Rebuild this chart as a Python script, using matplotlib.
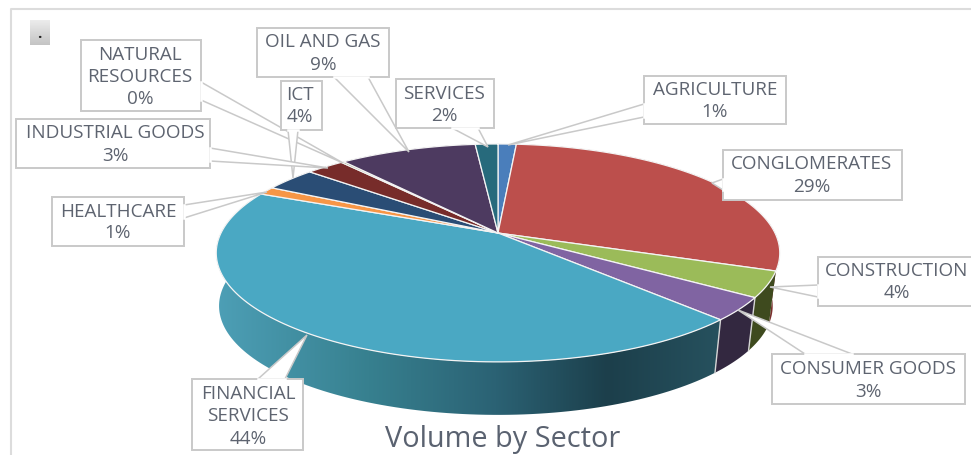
import numpy as np
import matplotlib
matplotlib.use("Agg")
import matplotlib.pyplot as plt
from matplotlib.colors import LinearSegmentedColormap
from matplotlib.patches import Polygon, Rectangle

plt.rcParams["font.family"] = ["Open Sans", "DejaVu Sans"]

SECTORS = ["AGRICULTURE", "CONGLOMERATES", "CONSTRUCTION", "CONSUMER GOODS",
           "FINANCIAL SERVICES", "HEALTHCARE", "ICT", "INDUSTRIAL GOODS",
           "NATURAL RESOURCES", "OIL AND GAS", "SERVICES"]
VALUES = [1.25, 29.25, 3.8, 3.4, 43.8, 1.2, 3.55, 2.6, 0.2, 9.4, 1.55]
PERCENT = ["1%", "29%", "4%", "3%", "44%", "1%", "4%", "3%", "0%", "9%", "2%"]

TOP_COLORS = ["#4a7ebb", "#bc4f4c", "#9bbb59", "#8064a2", "#4aa8c3", "#f79646",
              "#2a4d75", "#772c2a", "#5f7530", "#4d3a60", "#276a7c"]
SIDE_COLORS = ["#2c4b70", "#7a2f2d", "#3e4a1e", "#332840", "#2f6f85", "#a8641f",
               "#1c334e", "#4f1d1c", "#3f4e20", "#332740", "#1a4753"]

# pie geometry, in pixels
CX, CY = 498, 233
RX, RY, PERSP = 277, 105.3, 0.183
DEPTH = 53
BOTTOM_SCALE_L, BOTTOM_SCALE_R = 0.99, 0.975
BORDER = "#c9c9c9"

# box (x0, y0, x1, y1), pointer base 1, pointer base 2, tip, text centre x, text line ys
CALLOUTS = {
    "AGRICULTURE": ((644, 76, 786, 124), (644, 104), (644, 117), (508, 145), 715, [89, 111]),
    "CONGLOMERATES": ((723, 150, 902, 200), (723, 179), (723, 190), (712, 183), 812, [163, 186]),
    "CONSTRUCTION": ((818, 257, 985, 306), (818, 285), (818, 297), (770, 287), 897, [270, 292]),
    "CONSUMER GOODS": ((772, 354, 965, 404), (805, 354), (852, 354), (738, 310), 868, [368, 391]),
    "FINANCIAL SERVICES": ((192, 379, 303, 450), (258, 379), (285, 379), (307, 335), 248, [393, 415, 438]),
    "HEALTHCARE": ((52, 197, 184, 246), (184, 205), (184, 218), (267, 192), 118, [211, 232]),
    "NATURAL RESOURCES": ((81, 40, 201, 111), (201, 82), (201, 100), (343, 163), 140, [54, 76, 98]),
    "ICT": ((281, 81, 322, 130), (288, 130), (298, 130), (293, 178), 300, [94, 116]),
    "INDUSTRIAL GOODS": ((16, 119, 210, 168), (210, 148), (210, 161), (328, 168), 115, [132, 155]),
    "OIL AND GAS": ((257, 28, 389, 77), (334, 77), (368, 77), (409, 152), 323, [41, 64]),
    "SERVICES": ((396, 79, 494, 128), (452, 128), (478, 128), (488, 147), 444, [93, 115]),
}


def rim(theta):
    # theta clockwise from the back of the pie, perspective makes the front bigger
    u, v = np.sin(theta), np.cos(theta)
    w = 1 + PERSP * v
    return CX + RX * u / w, CY - RY * v / w


def lower(x, y):
    scale = np.where(np.asarray(x) < CX, BOTTOM_SCALE_L, BOTTOM_SCALE_R)
    return CX + (x - CX) * scale, y + DEPTH


fig = plt.figure(figsize=(9.71, 4.55), dpi=100)
ax = fig.add_axes([0, 0, 1, 1])

# chart frame
ax.plot([10.5, 10.5, 975], [460, 9, 9], color="#dcdcdc", lw=1.5, zorder=1)

# the small grey button top left
cmap_btn = LinearSegmentedColormap.from_list("btn", ["#ececec", "#c4c4c4"])
ax.imshow(np.linspace(0, 1, 64).reshape(-1, 1), extent=(30, 50, 45, 20), cmap=cmap_btn,
          aspect="auto", zorder=2)
ax.text(39.5, 38, ".", ha="center", va="baseline", fontsize=11, color="#222222",
        fontweight="bold", zorder=3)

edges = np.cumsum([0] + VALUES) / sum(VALUES) * 2 * np.pi

# side walls first, the top covers whatever is at the back
for i, name in enumerate(SECTORS):
    t = np.linspace(edges[i], edges[i + 1], 120)
    x, y = rim(t)
    xb, yb = lower(x, y)
    pts = np.r_[np.c_[x, y], np.c_[xb, yb][::-1]]
    if name == "FINANCIAL SERVICES":
        poly = Polygon(pts, closed=True, fc="none", ec="none")
        ax.add_patch(poly)
        cmap_side = LinearSegmentedColormap.from_list(
            "side", [(0, "#4d9fb6"), (0.3, "#37808f"), (0.55, "#2b6274"), (0.77, "#1c3f4b"), (1, "#27525f")])
        im = ax.imshow(np.linspace(0, 1, 256).reshape(1, -1), extent=(216, 725, 455, 0),
                       cmap=cmap_side, aspect="auto", zorder=5)
        im.set_clip_path(poly)
    else:
        ax.add_patch(Polygon(pts, closed=True, fc=SIDE_COLORS[i], ec="none", zorder=5))

# light seams on the front of the wall
for i in (3, 4):
    x, y = rim(edges[i])
    xb, yb = lower(x, y)
    ax.plot([x, xb], [y, yb], color="#d5d5d5", lw=1, zorder=6)

# top face
for i, name in enumerate(SECTORS):
    t = np.linspace(edges[i], edges[i + 1], 120)
    x, y = rim(t)
    pts = np.r_[[[CX, CY]], np.c_[x, y]]
    ax.add_patch(Polygon(pts, closed=True, fc=TOP_COLORS[i], ec="#f4f4f4", lw=0.9,
                         joinstyle="round", zorder=7))

# callouts, later ones sit on top
pct_by_name = dict(zip(SECTORS, PERCENT))
for n, (name, (box, b1, b2, tip, tx, ys)) in enumerate(CALLOUTS.items()):
    x0, y0, x1, y1 = box
    z = 8 + n * 0.1
    ax.add_patch(Polygon([b1, tip, b2], closed=True, fc="white", ec=BORDER, lw=1.1, zorder=z))
    ax.add_patch(Rectangle((x0, y0), x1 - x0, y1 - y0, fc="white", ec=BORDER, lw=1.4, zorder=z))
    # open the box edge under the pointer base
    ax.plot([b1[0], b2[0]], [b1[1], b2[1]], color="white", lw=1.8, zorder=z)
    words = name.split(" ") if len(ys) == 3 else [name]
    for line, ty in zip(words + [pct_by_name[name]], ys):
        ax.text(tx, ty + 1, line, ha="center", va="center", fontsize=13.6, color="#5e6470", zorder=10)

ax.text(503, 447, "Volume by Sector", ha="center", va="baseline", fontsize=20.8, color="#5a6270",
        zorder=10)

ax.set_xlim(0, 971)
ax.set_ylim(455, 0)
ax.axis("off")

fig.savefig("out.png", dpi=100)
